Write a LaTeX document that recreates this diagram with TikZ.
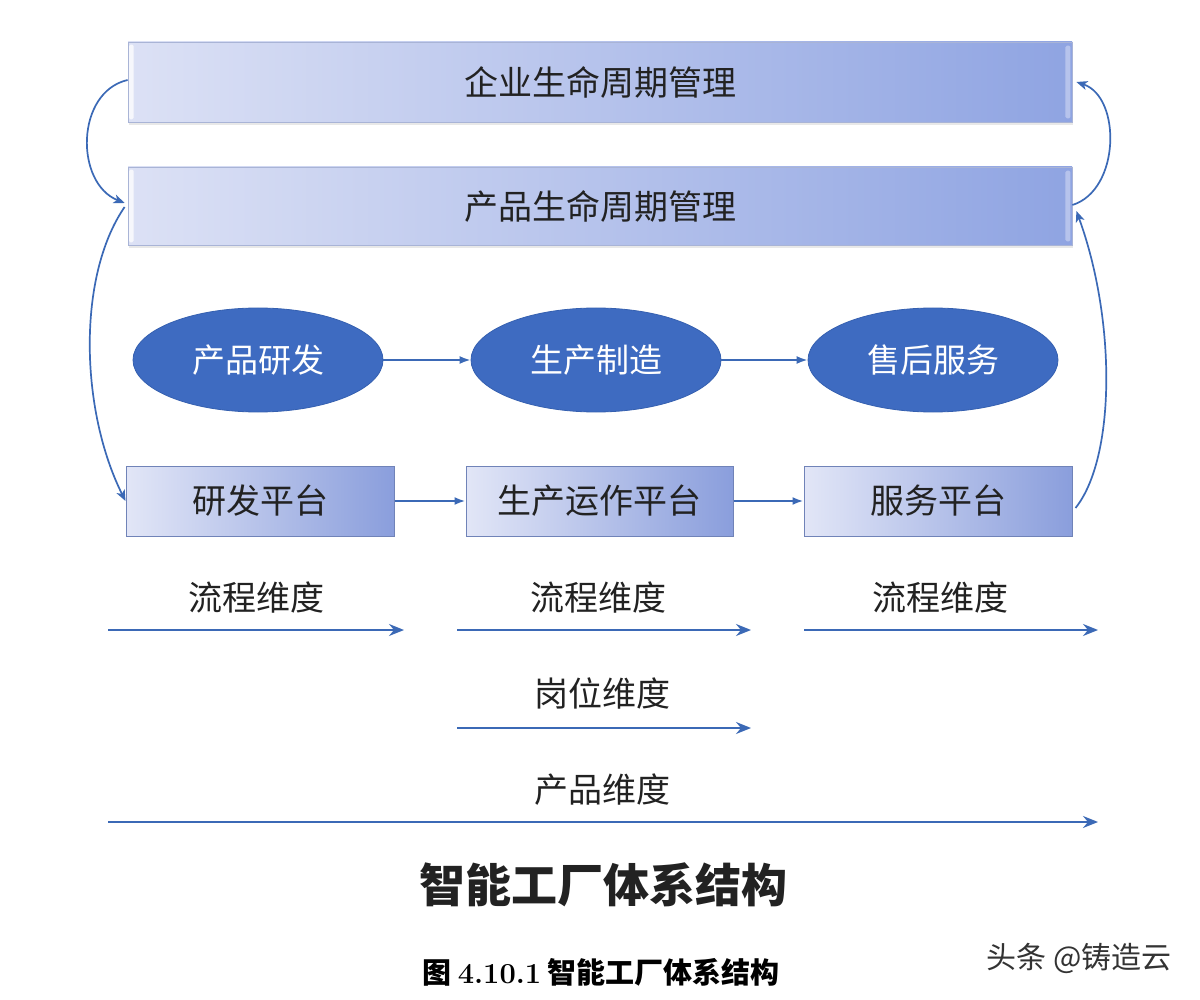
\documentclass[tikz,border=0pt]{standalone}
\usepackage{fontspec}
\newfontfamily\cjk{Noto Sans CJK SC}
\usetikzlibrary{shapes.geometric,arrows.meta,shadows}
\definecolor{barL}{HTML}{DCE1F5}
\definecolor{barR}{HTML}{8FA4E2}
\definecolor{barLine}{HTML}{A9B4D6}
\definecolor{boxL}{HTML}{E2E6F7}
\definecolor{boxR}{HTML}{8A9EDC}
\definecolor{boxLine}{HTML}{7083B8}
\definecolor{ellFill}{HTML}{3E6BC1}
\definecolor{ellLine}{HTML}{3560B0}
\definecolor{arrC}{HTML}{3B69B6}
\definecolor{txt}{HTML}{222222}
\begin{document}
\begin{tikzpicture}[x=1pt,y=-1pt,
  bar/.style={draw=barLine, line width=0.8pt, left color=barL, right color=barR,
    minimum width=944pt, minimum height=80pt, inner sep=0pt,
    font=\cjk\fontsize{34}{40}\selectfont, text=txt,
    drop shadow={shadow xshift=1pt, shadow yshift=-3pt, opacity=0.18, fill=gray}},
  ell/.style={ellipse, draw=ellLine, line width=0.8pt, fill=ellFill,
    minimum width=250pt, minimum height=104pt, inner sep=0pt,
    font=\cjk\fontsize{33}{38}\selectfont, text=white},
  plat/.style={draw=boxLine, line width=1pt, left color=boxL, right color=boxR,
    minimum height=70pt, inner sep=0pt, font=\cjk\fontsize{34}{40}\selectfont, text=txt},
  arr/.style={draw=arrC, line width=2pt, -{Latex[length=11pt,width=8pt]}},
  flow/.style={draw=arrC, line width=2pt, -{Stealth[length=15pt,width=12pt,inset=5pt]}},
  curv/.style={draw=arrC, line width=1.7pt, -{Stealth[length=11pt,width=9pt,inset=3pt]}},
  lbl/.style={font=\cjk\fontsize{34}{40}\selectfont, text=txt, inner sep=0pt},
  hl/.style={fill=white, opacity=0.75, rounded corners=1.5pt}
]
\useasboundingbox[fill=white] (0,0) rectangle (1200,1000);

% top bars
\node[bar] (b1) at (600,82) {企业生命周期管理};
\node[bar, minimum height=78pt] (b2) at (600,206) {产品生命周期管理};
\fill[hl] ([xshift=1.5pt,yshift=-3pt]b1.north west) rectangle ([xshift=6pt,yshift=3pt]b1.south west);
\fill[hl,opacity=0.35] ([xshift=-7pt,yshift=-4pt]b1.north east) rectangle ([xshift=-2pt,yshift=4pt]b1.south east);
\fill[hl] ([xshift=1.5pt,yshift=-3pt]b2.north west) rectangle ([xshift=6pt,yshift=3pt]b2.south west);
\fill[hl,opacity=0.35] ([xshift=-7pt,yshift=-4pt]b2.north east) rectangle ([xshift=-2pt,yshift=4pt]b2.south east);

% ellipses
\node[ell] (e1) at (258,360) {产品研发};
\node[ell] (e2) at (596,360) {生产制造};
\node[ell] (e3) at (933,360) {售后服务};
\draw[arr] (e1) -- (e2);
\draw[arr] (e2) -- (e3);

% platforms
\node[plat, minimum width=268pt] (p1) at (260,501) {研发平台};
\node[plat, minimum width=267pt] (p2) at (599.5,501) {生产运作平台};
\node[plat, minimum width=268pt] (p3) at (938,501) {服务平台};
\draw[arr] (p1) -- (p2);
\draw[arr] (p2) -- (p3);

% curved connectors
\coordinate (b1l) at ([yshift=2pt]b1.west);
\coordinate (b2la) at ([xshift=-3pt,yshift=3pt]b2.west);
\coordinate (b2lb) at ([xshift=-3pt,yshift=-1pt]b2.west);
\coordinate (b1r) at ([xshift=4pt]b1.east);
\coordinate (b2ra) at ([yshift=1pt]b2.east);
\coordinate (b2rb) at ([xshift=4pt,yshift=-5pt]b2.east);
\coordinate (p3r) at ([xshift=3pt,yshift=-7pt]p3.east);
\draw[curv] (b1l) .. controls +(-52,12) and +(-50,-20) .. (b2la);
\draw[curv] (b2lb) .. controls +(-48,70) and +(-45,-90) .. (p1.west);
\draw[curv] (b2ra) .. controls +(48,-15) and +(45,15) .. (b1r);
\draw[curv] (p3r) .. controls +(40,-50) and +(40,110) .. (b2rb);

% dimension arrows
\coordinate (f1a) at (108,630); \coordinate (f1b) at (404,630);
\coordinate (f2a) at (457,630); \coordinate (f2b) at (751,630);
\coordinate (f3a) at (804,630); \coordinate (f3b) at (1098,630);
\coordinate (g1a) at (457,728); \coordinate (g1b) at (751,728);
\coordinate (h1a) at (108,822); \coordinate (h1b) at (1098,822);
\draw[flow] (f1a) -- (f1b);
\draw[flow] (f2a) -- (f2b);
\draw[flow] (f3a) -- (f3b);
\draw[flow] (g1a) -- (g1b);
\draw[flow] (h1a) -- (h1b);
\node[lbl] (l1) at (256,598) {流程维度};
\node[lbl] (l2) at (598,598) {流程维度};
\node[lbl] (l3) at (940,598) {流程维度};
\node[lbl] (l4) at (602,693) {岗位维度};
\node[lbl] (l5) at (602,790) {产品维度};

% titles
\node[font=\cjk\bfseries\fontsize{46}{52}\selectfont, text=txt] (t1) at (603,885) {智能工厂体系结构};
\node[font=\cjk\bfseries\fontsize{29}{34}\selectfont, text=black] (t2) at (601,972) {图\ {\rmfamily\bfseries 4.10.1}\ 智能工厂体系结构};
\node[font=\cjk\fontsize{30}{34}\selectfont, text=black!80, anchor=west] (wm) at (983,958) {头条 @铸造云};
\end{tikzpicture}
\end{document}
